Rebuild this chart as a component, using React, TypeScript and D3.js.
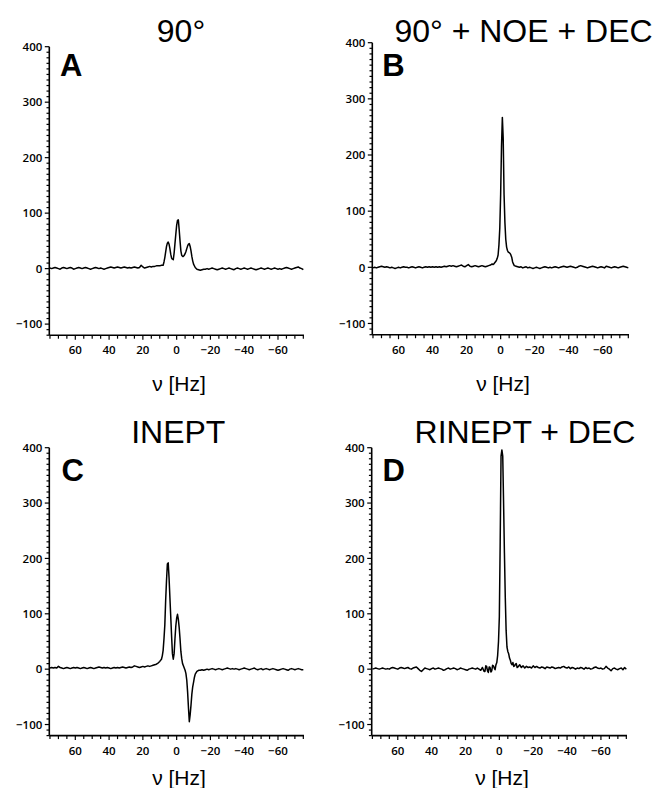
import React from "react";
import * as d3 from "d3";

// Frequency grid: integer Hz from 75 down to -75 (index i -> nu = 75 - i)
const NU_MAX = 75;

// ---------- Spectrum A: 90° ----------
const A_base: number[] = [
  // 75..56
  1, 0, 1, 2, 1, 0, -1, 1, 2, 1, 0, 1, 2, 1, -1, 0, 1, 2, 1, 0,
  // 55..36
  1, 2, 1, 0, -1, 0, 1, 2, 1, 0, 1, 0, -1, 0, 1, 2, 3, 2, 1, 2,
  // 35..22
  3, 2, 1, 2, 3, 2, 1, 2, 1, 2, 3, 2, 1, 2,
  // 21..9
  6, 3, 1, 2, 3, 4, 3, 4, 4, 5, 5, 5, 6,
  // 8..-16
  6, 20, 40, 48, 36, 19, 16, 45, 78, 88, 50, 24, 22, 27, 36, 44, 40, 22, 8, 2, -1, -2, -3, -2, -1,
  // -17..-36
  -1, 0, -1, 0, 1, 0, -1, -2, -1, 0, 1, 0, -1, 0, 1, 0, -1, -2, 0, 1,
  // -37..-56
  0, -1, 0, 1, 0, -1, 0, 1, 0, -1, -2, -1, 0, 1, 0, -1, 0, 1, 0, -1,
  // -57..-75
  0, 1, 0, -1, 0, -1, 0, 1, 2, 1, 0, -1, 0, 1, 2, 3, 1, 0, -2,
];
const A_fine: [number, number][] = [
  [7.5, 12], [6.5, 30], [5.5, 46], [4.5, 44], [3.5, 26], [2.5, 17], [1.5, 28],
  [0.5, 62], [-0.5, 87], [-1.5, 70], [-2.5, 32], [-3.5, 22], [-4.5, 24],
  [-5.5, 31], [-6.5, 41], [-7.5, 45], [-8.5, 32], [-9.5, 14],
];

// ---------- Spectrum B: 90° + NOE + DEC ----------
const B_base: number[] = [
  // 75..56
  -1, 0, -1, 0, 1, 2, 1, 0, 1, 0, -1, 0, -1, -2, -1, 0, -1, 0, 1, 0,
  // 55..36
  0, -1, 0, 1, 0, -1, 0, 1, 0, -1, 0, 1, 0, 1, 0, 1, 0, 1, 0, 1,
  // 35..16
  0, 1, 2, 1, 2, 3, 2, 3, 2, 1, 2, 3, 4, 2, 1, 3, 5, 2, 1, 2,
  // 15..5
  3, 2, 1, 2, 3, 2, 1, 2, 3, 4, 6,
  // 4..-8
  6, 10, 16, 40, 130, 267, 130, 50, 30, 26, 22, 10, 3,
  // -9..-28
  2, 1, 0, 1, -1, 0, 1, -1, 0, -1, -2, -1, 0, -1, -2, -1, 0, 1, 0, -1,
  // -29..-48
  0, -1, 0, 1, 0, -1, 0, 1, 2, 1, 0, 1, 2, 1, 0, -1, 0, 2, 3, 2,
  // -49..-75
  1, 0, -1, 0, 1, 2, 1, 0, -1, 0, 1, 0, -1, 2, 1, 0, -1, 0, 1, 0, -1, 0, 1, 2, 1, 0, -1,
];
const B_fine: [number, number][] = [
  [4.5, 5], [3.5, 8], [2.5, 12], [1.5, 22], [0.5, 70], [-0.5, 215], [-1.5, 230],
  [-2.5, 80], [-3.5, 36], [-4.5, 27], [-5.5, 25], [-6.5, 18], [-7.5, 6],
];

// ---------- Spectrum C: INEPT ----------
const C_base: number[] = [
  // 75..56
  2, 3, 2, 3, 2, 5, 3, 2, 1, 2, 3, 2, 1, 2, 3, 2, 3, 2, 1, 2,
  // 55..36
  3, 2, 1, 2, 3, 2, 1, 2, 3, 4, 3, 2, 3, 2, 3, 2, 1, 2, 3, 2,
  // 35..16
  3, 2, 3, 4, 3, 2, 3, 4, 3, 4, 6, 5, 4, 3, 4, 5, 4, 5, 6, 5,
  // 15..10
  6, 7, 8, 9, 11, 14,
  // 9..-13
  18, 34, 80, 160, 192, 130, 60, 18, 55, 92, 90, 55, 19, 6, -2, -20, -70, -82, -45, -24, -9, -4, -2,
  // -14..-33
  -2, -1, -2, -1, 0, -1, 0, 1, 0, -1, 0, 1, 0, -1, 0, 1, 2, 1, 0, 1,
  // -34..-53
  0, 1, 0, -1, 0, 1, 2, 1, 0, -1, 0, 1, 2, 0, -1, 0, 1, -1, 0, 1,
  // -54..-75
  0, -1, 0, 1, 0, -1, -2, -1, 0, 1, 0, -1, -2, 0, 1, 0, -1, 0, 1, 0, -1, -1,
];
const C_fine: [number, number][] = [
  [8.5, 24], [7.5, 55], [6.5, 125], [5.5, 190], [4.5, 165], [3.5, 95], [2.5, 28],
  [1.5, 28], [0.5, 78], [-0.5, 99], [-1.5, 75], [-2.5, 32], [-3.5, 10], [-4.5, 2],
  [-5.5, -8], [-6.5, -42], [-7.5, -95], [-8.5, -65], [-9.5, -32], [-10.5, -15],
];

// ---------- Spectrum D: RINEPT + DEC ----------
const D_base: number[] = [
  // 75..56
  0, 1, 2, 1, 0, 1, 2, 1, 0, 1, 0, 2, 3, 2, 1, 0, 2, 3, 2, 1,
  // 55..36
  2, 3, 1, 0, 2, 3, 4, 1, -2, -4, -1, 2, 1, 0, -1, 1, 2, 0, 1, 2,
  // 35..16
  1, 0, -2, -1, 1, 2, 0, 1, 2, 1, -1, 0, 2, 1, 0, -1, -2, 0, 1, 2,
  // 15..2
  1, 0, 2, 0, -2, 3, -4, 6, -3, 4, -5, 7, 2, 8,
  // 1..-8
  25, 95, 385, 385, 210, 70, 32, 20, 10, 12,
  // -9..-28
  6, 10, 4, 8, 3, 6, 2, 5, 3, 4, 2, 6, 3, 5, 3, 2, 4, 3, 1, 4,
  // -29..-48
  3, 2, 4, 3, 1, 2, 3, 2, 4, 5, 3, 2, 4, 1, 3, 2, 0, 2, 1, 3,
  // -49..-75
  2, 0, 3, 1, 2, 0, 1, 3, 4, 2, 1, 2, 0, 1, 5, 2, 0, -3, 1, 2, 0, -1, 1, 2, -1, 3, 0,
];
const D_fine: [number, number][] = [
  [8.5, -4], [7.5, 5], [6.5, -6], [5.5, 3], [4.5, -3], [3.5, 6], [2.5, -1],
  [1.5, 12], [0.5, 50], [-0.5, 230], [-1.5, 396], [-2.5, 300], [-3.5, 130],
  [-4.5, 40], [-5.5, 28], [-6.5, 16], [-7.5, 8], [-8.5, 5], [-9.5, 9], [-10.5, 3],
];

const TITLES = ["90°", "90° + NOE + DEC", "INEPT", "RINEPT + DEC"];
const LETTERS = ["A", "B", "C", "D"];
const X_MAJOR = [60, 40, 20, 0, -20, -40, -60];
const Y_MAJOR = [-100, 0, 100, 200, 300, 400];
const X_LABEL = "ν [Hz]";

function buildSeries(base: number[], fine: [number, number][]): [number, number][] {
  const pts: [number, number][] = base.map((v, i) => [NU_MAX - i, v] as [number, number]);
  return pts.concat(fine).sort((a, b) => b[0] - a[0]);
}

const SERIES = [
  buildSeries(A_base, A_fine),
  buildSeries(B_base, B_fine),
  buildSeries(C_base, C_fine),
  buildSeries(D_base, D_fine),
];

type Layout = {
  x0: number; x1: number; yTop: number; yBot: number;
  titleX: number; titleY: number; letterX: number; letterY: number;
  labelX: number; labelY: number;
};

const LAYOUTS: Layout[] = [
  { x0: 49.3, x1: 304, yTop: 46.7, yBot: 335.2, titleX: 181, titleY: 41.7, letterX: 60, letterY: 76, labelX: 179, labelY: 391 },
  { x0: 372.3, x1: 629, yTop: 42.7, yBot: 334.7, titleX: 523.5, titleY: 41.7, letterX: 382.3, letterY: 76, labelX: 503, labelY: 391 },
  { x0: 49.3, x1: 304, yTop: 447.7, yBot: 735.6, titleX: 178.3, titleY: 442.7, letterX: 61.5, letterY: 481, labelX: 179, labelY: 785 },
  { x0: 371.7, x1: 627, yTop: 447.7, yBot: 735.6, titleX: 525, titleY: 442.7, letterX: 382.5, letterY: 481, labelX: 502, labelY: 785 },
];

const TICK_FONT = "'Open Sans', 'DejaVu Sans', sans-serif";
const TEXT_FONT = "'Liberation Sans', Arial, Helvetica, sans-serif";

function Panel({ idx }: { idx: number }) {
  const L = LAYOUTS[idx];
  const data = SERIES[idx];
  const x = d3.scaleLinear().domain([75.4, -75.4]).range([L.x0, L.x1]);
  const y = d3.scaleLinear().domain([-120, 400]).range([L.yBot, L.yTop]);
  const line = d3
    .line<[number, number]>()
    .x((d) => x(d[0]))
    .y((d) => y(d[1]));
  const xMinor = d3.range(-75, 76, 5);
  const yMinor = d3.range(-120, 401, 10);
  return (
    <g>
      <path d={line(data) || ""} fill="none" stroke="#000" strokeWidth={1.5} strokeLinejoin="round" />
      {/* axes */}
      <line x1={L.x0} x2={L.x0} y1={L.yTop} y2={L.yBot} stroke="#000" strokeWidth={1.6} />
      <line x1={L.x0} x2={L.x1} y1={L.yBot} y2={L.yBot} stroke="#000" strokeWidth={1.6} />
      {yMinor.map((v) => {
        const major = Y_MAJOR.includes(v);
        return (
          <line key={"ym" + v} x1={L.x0 - (major ? 4.5 : 2.8)} x2={L.x0} y1={y(v)} y2={y(v)} stroke="#000" strokeWidth={1.2} />
        );
      })}
      {xMinor.map((v) => {
        const major = X_MAJOR.includes(v);
        return (
          <line key={"xm" + v} x1={x(v)} x2={x(v)} y1={L.yBot} y2={L.yBot + (major ? 4.5 : 3.5)} stroke="#000" strokeWidth={1.2} />
        );
      })}
      {Y_MAJOR.map((v) => (
        <text key={"yl" + v} x={L.x0 - 7} y={y(v) + 4.2} textAnchor="end" fontFamily={TICK_FONT} fontWeight={600} fontSize={11.5} fill="#000">
          {v < 0 ? "−" + Math.abs(v) : String(v)}
        </text>
      ))}
      {X_MAJOR.map((v) => (
        <text key={"xl" + v} x={x(v)} y={L.yBot + 19} textAnchor="middle" fontFamily={TICK_FONT} fontWeight={600} fontSize={11.5} fill="#000">
          {v < 0 ? "−" + Math.abs(v) : String(v)}
        </text>
      ))}
      <text x={L.titleX} y={L.titleY} textAnchor="middle" fontFamily={TEXT_FONT} fontSize={32} fill="#000">
        {TITLES[idx]}
      </text>
      <text x={L.letterX} y={L.letterY} fontFamily={TEXT_FONT} fontWeight="bold" fontSize={31} fill="#000">
        {LETTERS[idx]}
      </text>
      <text x={L.labelX} y={L.labelY} textAnchor="middle" fontFamily={TEXT_FONT} fontSize={21} fill="#000">
        {X_LABEL}
      </text>
    </g>
  );
}

export default function App() {
  return (
    <svg
      width={660}
      height={788}
      viewBox="0 0 660 788"
      style={{ position: "absolute", left: 0, top: 0, background: "#fff" }}
    >
      <rect width={660} height={788} fill="#fff" />
      {[0, 1, 2, 3].map((i) => (
        <Panel key={i} idx={i} />
      ))}
    </svg>
  );
}
